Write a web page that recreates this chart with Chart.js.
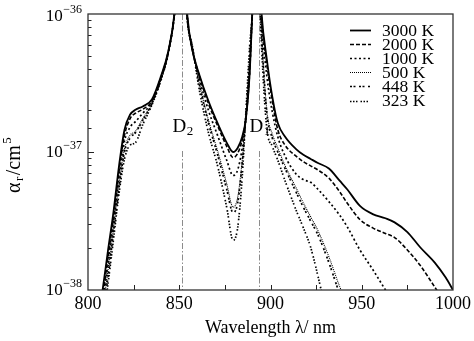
<!DOCTYPE html>
<html><head><meta charset="utf-8">
<script src="https://cdn.jsdelivr.net/npm/chart.js@4.4.1/dist/chart.umd.min.js"></script>
<style>html,body{margin:0;padding:0;background:#fff;}canvas{display:block;}</style>
</head><body>
<canvas id="c" width="474" height="341"></canvas>
<script>
// ---- data ----
const wavelengths = [804, 808, 811, 814, 817, 820, 823, 826, 830, 835, 840, 844, 847.5, 851, 854.5, 857, 861, 866, 871, 876, 879.5, 882, 884.5, 886.5, 888.5, 890, 892.5, 895, 898, 901, 904, 908, 914, 918, 922, 926, 932, 938, 942, 949, 956, 963, 968, 975, 982, 990, 996, 1000];

const alpha3000 = [4.47e-39, 1.00e-38, 1.95e-38, 3.72e-38, 7.94e-38,
  1.45e-37, 1.86e-37, 2.02e-37, 2.14e-37, 2.40e-37,
  3.55e-37, 5.37e-37, 1.05e-36, 5.01e-36, 9.55e-37,
  5.62e-37, 3.63e-37, 2.34e-37, 1.62e-37, 1.17e-37,
  1.00e-37, 1.07e-37, 1.29e-37, 1.74e-37, 3.55e-37,
  1.00e-36, 5.01e-36, 1.05e-36, 4.68e-37, 2.51e-37,
  1.62e-37, 1.29e-37, 1.05e-37, 9.55e-38, 8.91e-38,
  8.32e-38, 7.59e-38, 6.17e-38, 5.37e-38, 4.07e-38,
  3.55e-38, 3.31e-38, 3.09e-38, 2.63e-38, 2.04e-38,
  1.58e-38, 1.23e-38, 1.00e-38];

const alpha2000 = [3.98e-39, 8.91e-39, 1.74e-38, 3.39e-38, 7.24e-38,
  1.32e-37, 1.74e-37, 1.91e-37, 2.04e-37, 2.34e-37,
  3.47e-37, 5.37e-37, 1.05e-36, 5.01e-36, 9.33e-37,
  5.62e-37, 3.55e-37, 2.24e-37, 1.55e-37, 1.10e-37,
  9.12e-38, 9.77e-38, 1.23e-37, 1.74e-37, 3.63e-37,
  1.00e-36, 5.01e-36, 1.00e-36, 4.37e-37, 2.34e-37,
  1.45e-37, 1.12e-37, 9.33e-38, 8.51e-38, 7.94e-38,
  7.41e-38, 6.46e-38, 5.13e-38, 4.27e-38, 3.24e-38,
  2.82e-38, 2.57e-38, 2.40e-38, 1.95e-38, 1.51e-38,
  1.05e-38, 7.94e-39, 6.61e-39];

const alpha1000 = [3.55e-39, 7.94e-39, 1.58e-38, 3.16e-38, 6.61e-38,
  1.20e-37, 1.51e-37, 1.66e-37, 1.91e-37, 2.29e-37,
  3.39e-37, 5.25e-37, 1.05e-36, 5.01e-36, 9.12e-37,
  5.75e-37, 3.39e-37, 2.00e-37, 1.32e-37, 8.71e-38,
  6.76e-38, 7.41e-38, 1.07e-37, 1.78e-37, 3.80e-37,
  1.00e-36, 5.01e-36, 9.55e-37, 3.55e-37, 1.95e-37,
  1.29e-37, 9.33e-38, 6.92e-38, 6.31e-38, 6.03e-38,
  5.37e-38, 4.37e-38, 3.47e-38, 2.88e-38, 1.95e-38,
  1.41e-38, 1.00e-38, 7.94e-39, null, null,
  null, null, null];

const alpha500 = [3.16e-39, 7.08e-39, 1.41e-38, 2.82e-38, 5.89e-38,
  1.05e-37, 1.32e-37, 1.41e-37, 1.74e-37, 2.24e-37,
  3.39e-37, 5.25e-37, 1.05e-36, 5.01e-36, 8.91e-37,
  5.89e-37, 3.16e-37, 1.70e-37, 1.02e-37, 5.89e-38,
  3.98e-38, 4.68e-38, 8.71e-38, 1.82e-37, 4.47e-37,
  1.00e-36, 5.01e-36, 7.94e-37, 2.00e-37, 1.35e-37,
  1.07e-37, 7.94e-38, 5.50e-38, 4.27e-38, 3.39e-38,
  2.69e-38, 1.74e-38, 1.05e-38, 7.94e-39, null,
  null, null, null, null, null,
  null, null, null];

const alpha448 = [2.82e-39, 6.31e-39, 1.26e-38, 2.63e-38, 5.50e-38,
  1.00e-37, 1.26e-37, 1.38e-37, 1.70e-37, 2.24e-37,
  3.39e-37, 5.25e-37, 1.05e-36, 5.01e-36, 8.91e-37,
  5.89e-37, 3.09e-37, 1.62e-37, 9.55e-38, 5.37e-38,
  3.63e-38, 4.27e-38, 8.32e-38, 1.82e-37, 4.47e-37,
  1.00e-36, 5.01e-36, 7.59e-37, 1.91e-37, 1.26e-37,
  1.00e-37, 7.59e-38, 5.13e-38, 3.98e-38, 3.16e-38,
  2.51e-38, 1.58e-38, 9.33e-39, 7.08e-39, null,
  null, null, null, null, null,
  null, null, null];

const alpha323 = [2.51e-39, 5.62e-39, 1.12e-38, 2.34e-38, 5.01e-38,
  8.91e-38, 1.12e-37, 1.17e-37, 1.58e-37, 2.19e-37,
  3.31e-37, 5.25e-37, 1.05e-36, 5.01e-36, 8.71e-37,
  6.03e-37, 2.82e-37, 1.38e-37, 7.94e-38, 3.98e-38,
  2.29e-38, 2.82e-38, 6.61e-38, 1.91e-37, 5.62e-37,
  1.00e-36, 5.01e-36, 6.31e-37, 1.48e-37, 1.10e-37,
  8.71e-38, 6.17e-38, 3.80e-38, 2.82e-38, 2.04e-38,
  1.26e-38, 5.62e-39, null, null, null,
  null, null, null, null, null,
  null, null, null];

const seriesLabels = ['3000 K', '2000 K', '1000 K', '500 K', '448 K', '323 K'];
const seriesValues = [alpha3000, alpha2000, alpha1000, alpha500, alpha448, alpha323];
const xTickLabels = ['800', '850', '900', '950', '1000'];
const yTickValues = [1e-38, 1e-37, 1e-36];
const yTickExponents = ['\u221238', '\u221237', '\u221236'];
const lineMarkers = [851.6, 893.8];
const lineMarkerSubs = ['2', '1'];

// ---- styles ----
const FONT = '"Liberation Serif", "DejaVu Serif", serif';
const seriesDash = [[], [4, 2], [2, 2.5], [1, 1], [2, 1.5, 2, 3.5], [1.5, 1.5, 1.5, 1.5, 1.5, 3]];
const seriesWidth = [1.8, 1.6, 1.7, 1.1, 1.7, 1.7];

const datasets = seriesValues.map((vals, i) => ({
  label: seriesLabels[i],
  data: wavelengths.map((w, j) => ({ x: w, y: vals[j] })),
  borderColor: '#000',
  borderWidth: seriesWidth[i],
  borderDash: seriesDash[i],
  pointRadius: 0,
  fill: false,
  cubicInterpolationMode: 'monotone',
  spanGaps: false,
  clip: 0
}));

const decor = {
  id: 'decor',
  beforeDatasetsDraw(chart) {
    const { ctx, chartArea: a, scales: { x } } = chart;
    ctx.save();
    lineMarkers.forEach((w, i) => {
      const px = Math.round(x.getPixelForValue(w)) + 0.5;
      ctx.strokeStyle = '#8c8c8c';
      ctx.lineWidth = 1;
      ctx.setLineDash([6, 2, 1.5, 2]);
      ctx.beginPath();
      ctx.moveTo(px, a.top); ctx.lineTo(px, a.top + 96);
      ctx.moveTo(px, a.top + 137); ctx.lineTo(px, a.bottom);
      ctx.stroke();
      ctx.setLineDash([]);
      ctx.fillStyle = '#000';
      ctx.textAlign = 'left';
      ctx.textBaseline = 'alphabetic';
      ctx.font = '19px ' + FONT;
      const lx = px - 10, by = a.top + 118;
      ctx.fillText('D', lx, by);
      const dw = ctx.measureText('D').width;
      ctx.font = '13px ' + FONT;
      ctx.fillText(lineMarkerSubs[i], lx + dw + 0.5, by + 3);
    });
    ctx.restore();
  },
  afterDatasetsDraw(chart) {
    const { ctx, chartArea: a, scales: { x, y } } = chart;
    ctx.save();
    // ticks (inward)
    ctx.strokeStyle = '#222';
    ctx.lineWidth = 1;
    ctx.beginPath();
    x.ticks.forEach(t => {
      if (t.value <= x.min || t.value >= x.max) return;
      const px = Math.round(x.getPixelForValue(t.value)) + 0.5;
      ctx.moveTo(px, a.bottom); ctx.lineTo(px, a.bottom - 5);
    });
    y.ticks.forEach(t => {
      const py = Math.round(y.getPixelForValue(t.value)) + 0.5;
      if (py <= a.top + 1 || py >= a.bottom - 1) return;
      const lg = Math.log10(t.value);
      const major = Math.abs(lg - Math.round(lg)) < 1e-6;
      ctx.moveTo(a.left, py); ctx.lineTo(a.left + (major ? 6 : 3.5), py);
    });
    ctx.stroke();
    // frame
    ctx.strokeStyle = '#333';
    ctx.lineWidth = 1.3;
    ctx.strokeRect(a.left, a.top, a.right - a.left, a.bottom - a.top);
    // legend
    const lx0 = a.right - 103, lx1 = a.right - 82, tx = a.right - 71;
    chart.data.datasets.forEach((ds, i) => {
      const cy = a.top + 16 + i * 14.1;
      ctx.strokeStyle = '#000';
      ctx.lineWidth = ds.borderWidth;
      ctx.setLineDash(ds.borderDash);
      ctx.beginPath();
      ctx.moveTo(lx0, Math.round(cy) + 0.5); ctx.lineTo(lx1, Math.round(cy) + 0.5);
      ctx.stroke();
      ctx.setLineDash([]);
      ctx.fillStyle = '#000';
      ctx.font = '17.5px ' + FONT;
      ctx.textAlign = 'left';
      ctx.textBaseline = 'middle';
      ctx.fillText(ds.label, tx, cy + 1);
    });
    ctx.restore();
  },
  afterDraw(chart) {
    const { ctx, chartArea: a, scales: { y } } = chart;
    ctx.save();
    ctx.fillStyle = '#000';
    // y tick labels 10^n
    yTickValues.forEach((v, i) => {
      const py = y.getPixelForValue(v);
      const cy = Math.max(py + 1, 17);
      ctx.font = '12px ' + FONT;
      ctx.textAlign = 'right';
      ctx.textBaseline = 'middle';
      const rx = a.left - 6;
      ctx.fillText(yTickExponents[i], rx, cy - 7);
      const sw = ctx.measureText(yTickExponents[i]).width;
      ctx.font = '17px ' + FONT;
      ctx.fillText('10', rx - sw - 0.5, cy);
    });
    // y title alpha_r / cm^5 (rotated)
    ctx.translate(20, 193);
    ctx.rotate(-Math.PI / 2);
    ctx.textAlign = 'left';
    ctx.textBaseline = 'alphabetic';
    const parts = [['\u03b1', 20, 0], ['r', 13, 3], ['/cm', 20, 0], ['5', 13, -9]];
    let cx = 0;
    parts.forEach(([s, size, dy]) => {
      ctx.font = size + 'px ' + FONT;
      ctx.fillText(s, cx, dy);
      cx += ctx.measureText(s).width + 1.5;
    });
    ctx.restore();
  }
};

new Chart(document.getElementById('c'), {
  type: 'line',
  data: { datasets },
  plugins: [decor],
  options: {
    responsive: false,
    animation: false,
    devicePixelRatio: 1,
    layout: { padding: { left: 0, right: 19, top: 14, bottom: 0 } },
    plugins: { legend: { display: false }, tooltip: { enabled: false } },
    scales: {
      x: {
        type: 'linear', min: 800, max: 1000,
        afterFit(s) { s.height = 51; },
        grid: { display: false, drawTicks: false },
        border: { display: false },
        ticks: {
          stepSize: 25, autoSkip: false, maxRotation: 0, padding: 3, color: '#000',
          font: { family: FONT, size: 18 },
          callback: v => xTickLabels.includes(String(v)) ? String(v) : ''
        },
        title: { display: true, text: 'Wavelength \u03bb/ nm', color: '#000', font: { family: FONT, size: 18 }, padding: { top: 0, bottom: 2 } }
      },
      y: {
        type: 'logarithmic', min: 1e-38, max: 1e-36,
        afterFit(s) { s.width = 88; },
        grid: { display: false, drawTicks: false },
        border: { display: false },
        ticks: { display: false }
      }
    }
  }
});
</script>
</body></html>
